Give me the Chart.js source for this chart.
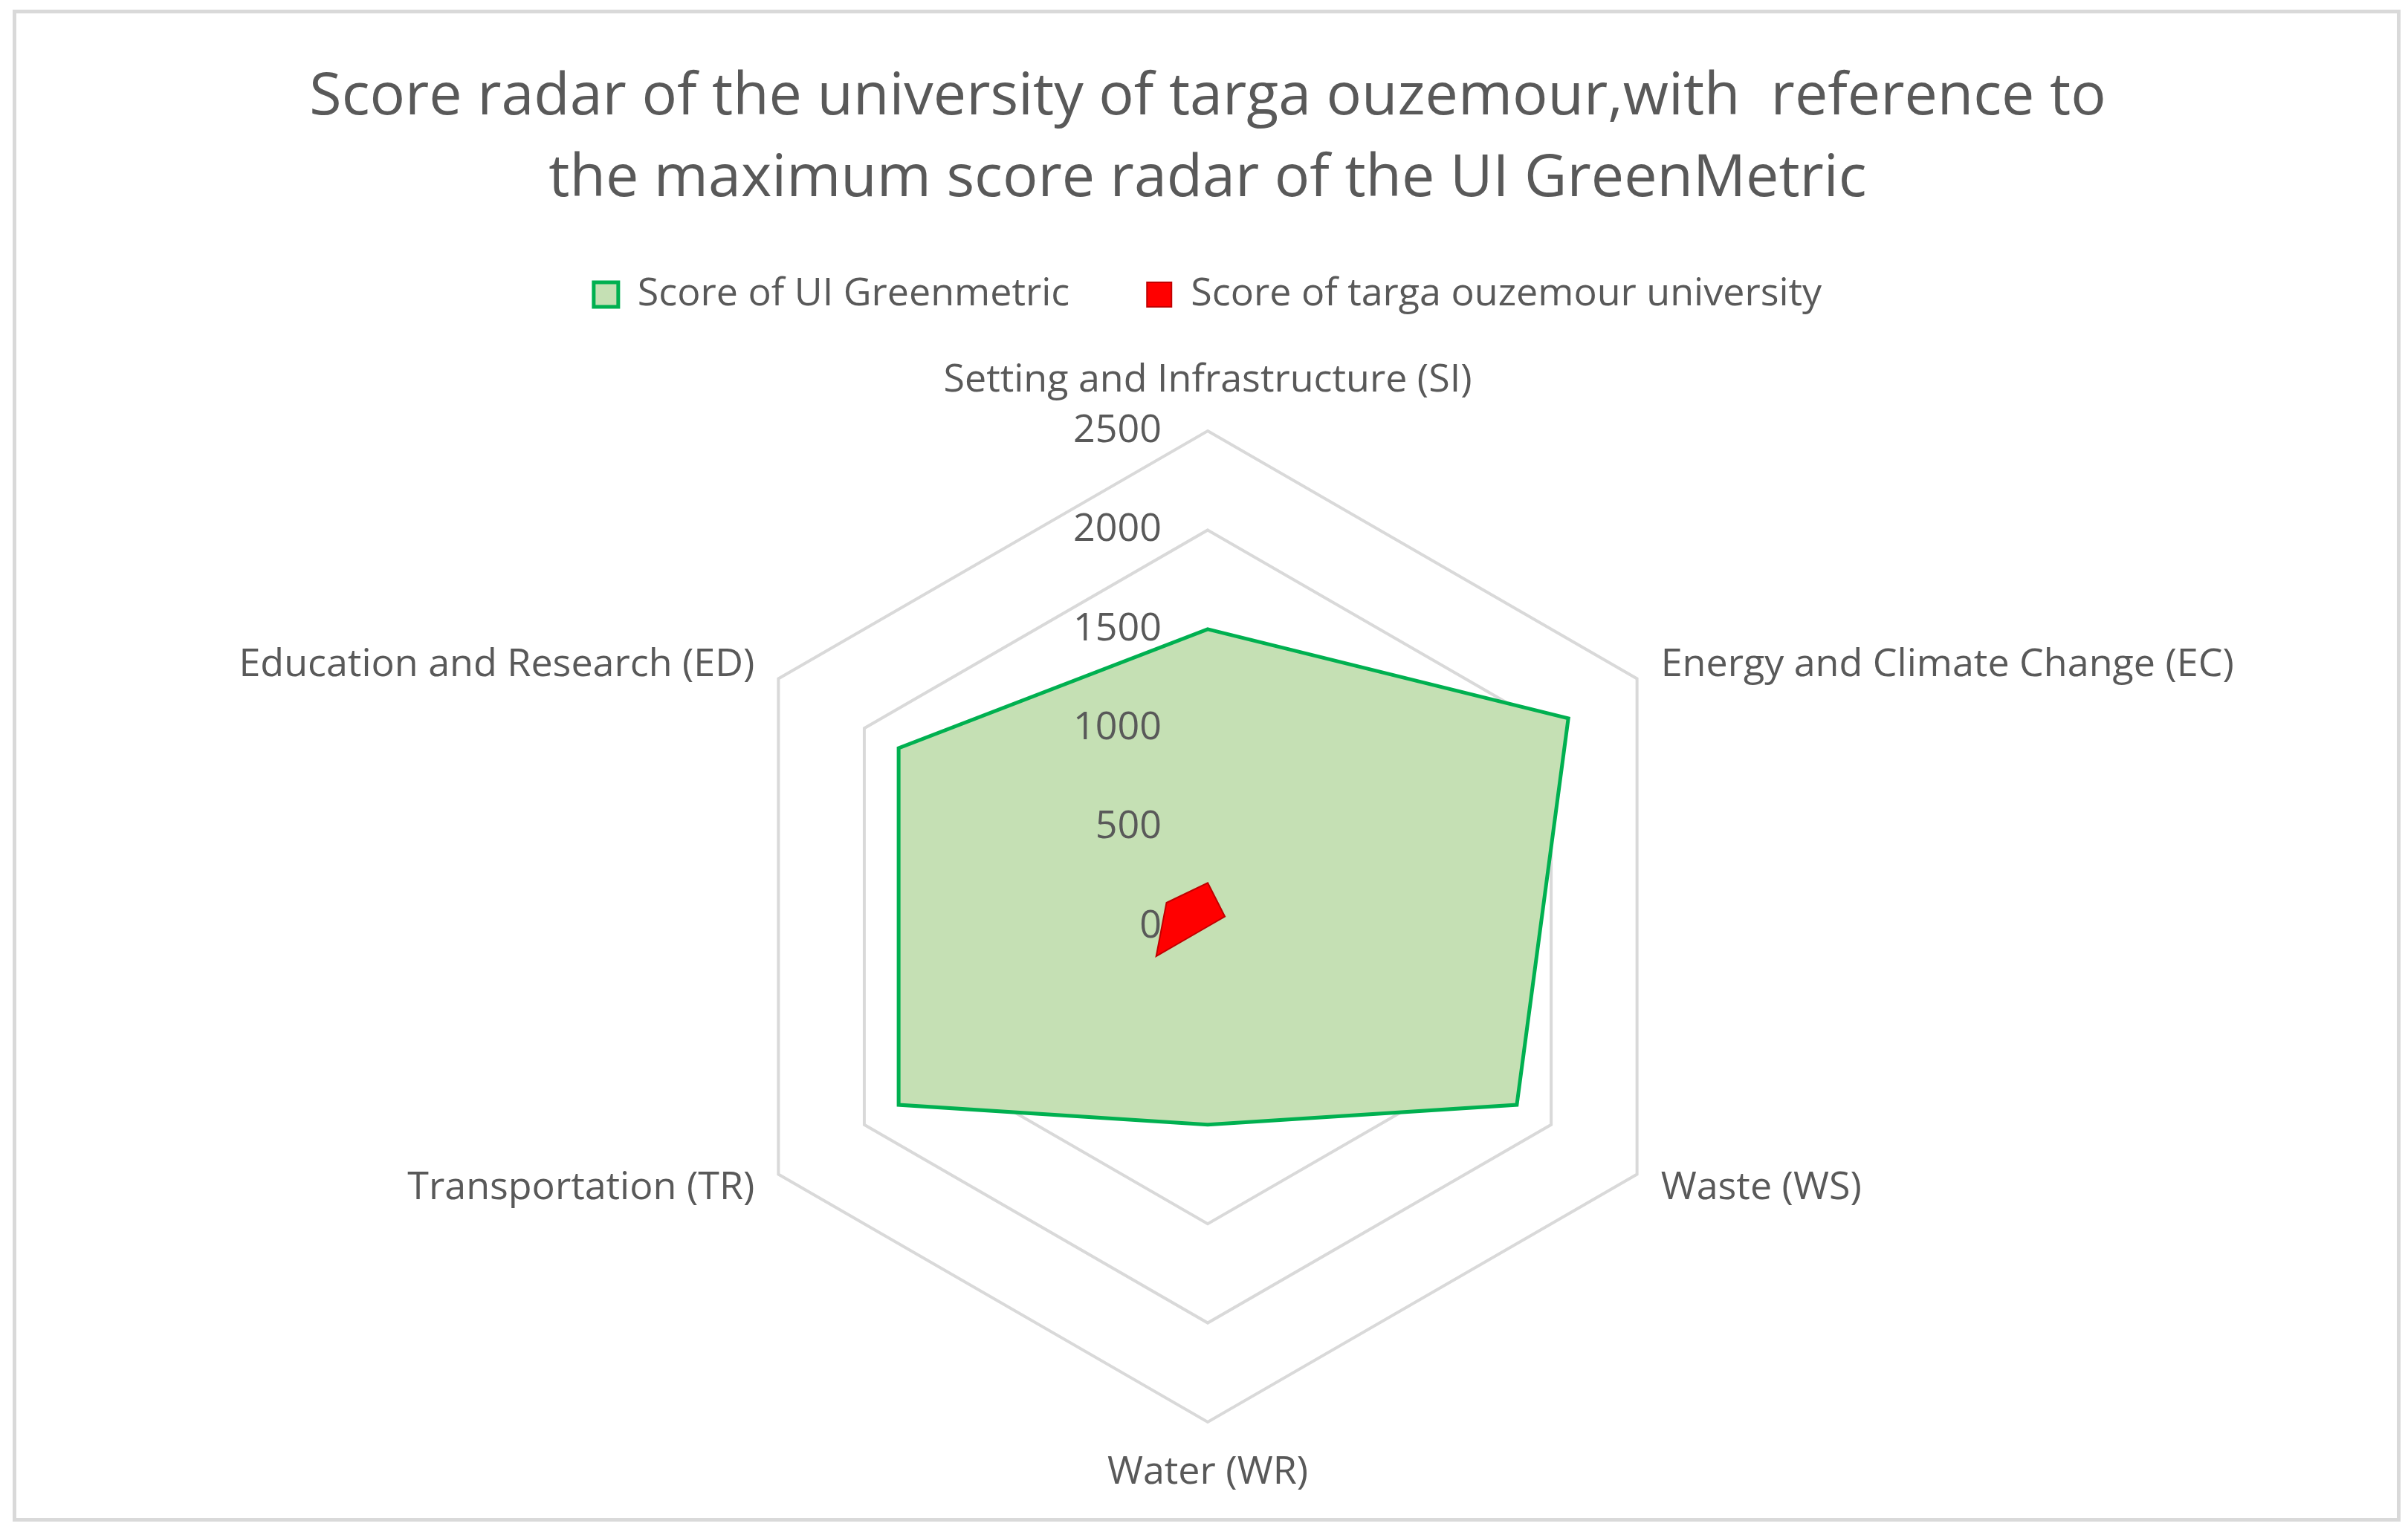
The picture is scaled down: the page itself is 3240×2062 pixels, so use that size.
<!DOCTYPE html>
<html>
<head>
<meta charset="utf-8">
<title>Score radar</title>
<script src="https://cdn.jsdelivr.net/npm/chart.js@4.4.1/dist/chart.umd.min.js"></script>
<style>
    html, body { margin: 0; padding: 0; background: #ffffff; }
    #frame {
        position: absolute; left: 17px; top: 13px;
        width: 3213px; height: 2035px;
        box-sizing: border-box; border: 5px solid #d9d9d9;
    }
    #radarChart { position: absolute; left: 0; top: 0; }
</style>
</head>
<body>
<div id="frame"></div>
<canvas id="radarChart" width="3240" height="2062"></canvas>
<script>
const categories = [
    "Setting and Infrastructure (SI)",
    "Energy and Climate Change (EC)",
    "Waste (WS)",
    "Water (WR)",
    "Transportation (TR)",
    "Education and Research (ED)"
];
const greenmetricScores = [1500, 2100, 1800, 1000, 1800, 1800];
const targaScores = [220, 100, 0, 0, 300, 240];
const seriesNames = ["Score of UI Greenmetric", "Score of targa ouzemour university"];
const axisMax = 2500;
const axisStep = 500;
const titleLines = [
    "Score radar of the university of targa ouzemour,with  reference to",
    "the maximum score radar of the UI GreenMetric"
];

const TEXT_COLOR = "#595959";
const FONT = "'Open Sans', sans-serif";

// extra room between the legend and the radar
const legendSpacing = {
    id: "legendSpacing",
    beforeInit(chart) {
        const fit = chart.legend.fit;
        chart.legend.fit = function () {
            fit.bind(chart.legend)();
            this.height += 48;
        };
    }
};

// Excel puts the value labels just left of the vertical axis
const tickLabels = {
    id: "tickLabels",
    afterDatasetsDraw(chart) {
        const scale = chart.scales.r;
        const ctx = chart.ctx;
        ctx.save();
        ctx.font = "52px " + FONT;
        ctx.fillStyle = TEXT_COLOR;
        ctx.textAlign = "right";
        ctx.textBaseline = "middle";
        scale.ticks.forEach(t => {
            const d = scale.getDistanceFromCenterForValue(t.value);
            ctx.fillText(String(t.value), scale.xCenter - 62, scale.yCenter - d);
        });
        ctx.restore();
    }
};

new Chart(document.getElementById("radarChart"), {
    type: "radar",
    data: {
        labels: categories,
        datasets: [
            {
                label: seriesNames[0],
                data: greenmetricScores,
                backgroundColor: "#c5e0b4",
                borderColor: "#00b050",
                borderWidth: 5,
                pointRadius: 0,
                fill: true,
                order: 1
            },
            {
                label: seriesNames[1],
                data: targaScores,
                backgroundColor: "#ff0000",
                borderColor: "#c00000",
                borderWidth: 2,
                pointRadius: 0,
                fill: true,
                order: 0
            }
        ]
    },
    options: {
        responsive: false,
        animation: false,
        layout: {
            padding: { left: 10, bottom: 47 }
        },
        scales: {
            r: {
                min: 0,
                max: axisMax,
                ticks: { stepSize: axisStep, display: false },
                grid: { color: "#d9d9d9", lineWidth: 4 },
                angleLines: { display: false },
                pointLabels: {
                    color: TEXT_COLOR,
                    padding: 37,
                    font: (ctx) => ({
                        family: FONT,
                        size: 52,
                        lineHeight: (ctx.index % 3 === 0) ? 1.2 : 0.01
                    })
                }
            }
        },
        plugins: {
            title: {
                display: true,
                text: titleLines,
                color: TEXT_COLOR,
                font: { family: FONT, size: 79, weight: "normal", lineHeight: 1.39 },
                padding: { top: 77, bottom: -30 }
            },
            legend: {
                position: "top",
                labels: {
                    color: TEXT_COLOR,
                    font: { family: FONT, size: 52 },
                    boxWidth: 33,
                    boxHeight: 33,
                    padding: 104,
                    sort: (a, b) => a.datasetIndex - b.datasetIndex
                }
            },
            tooltip: { enabled: false }
        }
    },
    plugins: [legendSpacing, tickLabels]
});
</script>
</body>
</html>
